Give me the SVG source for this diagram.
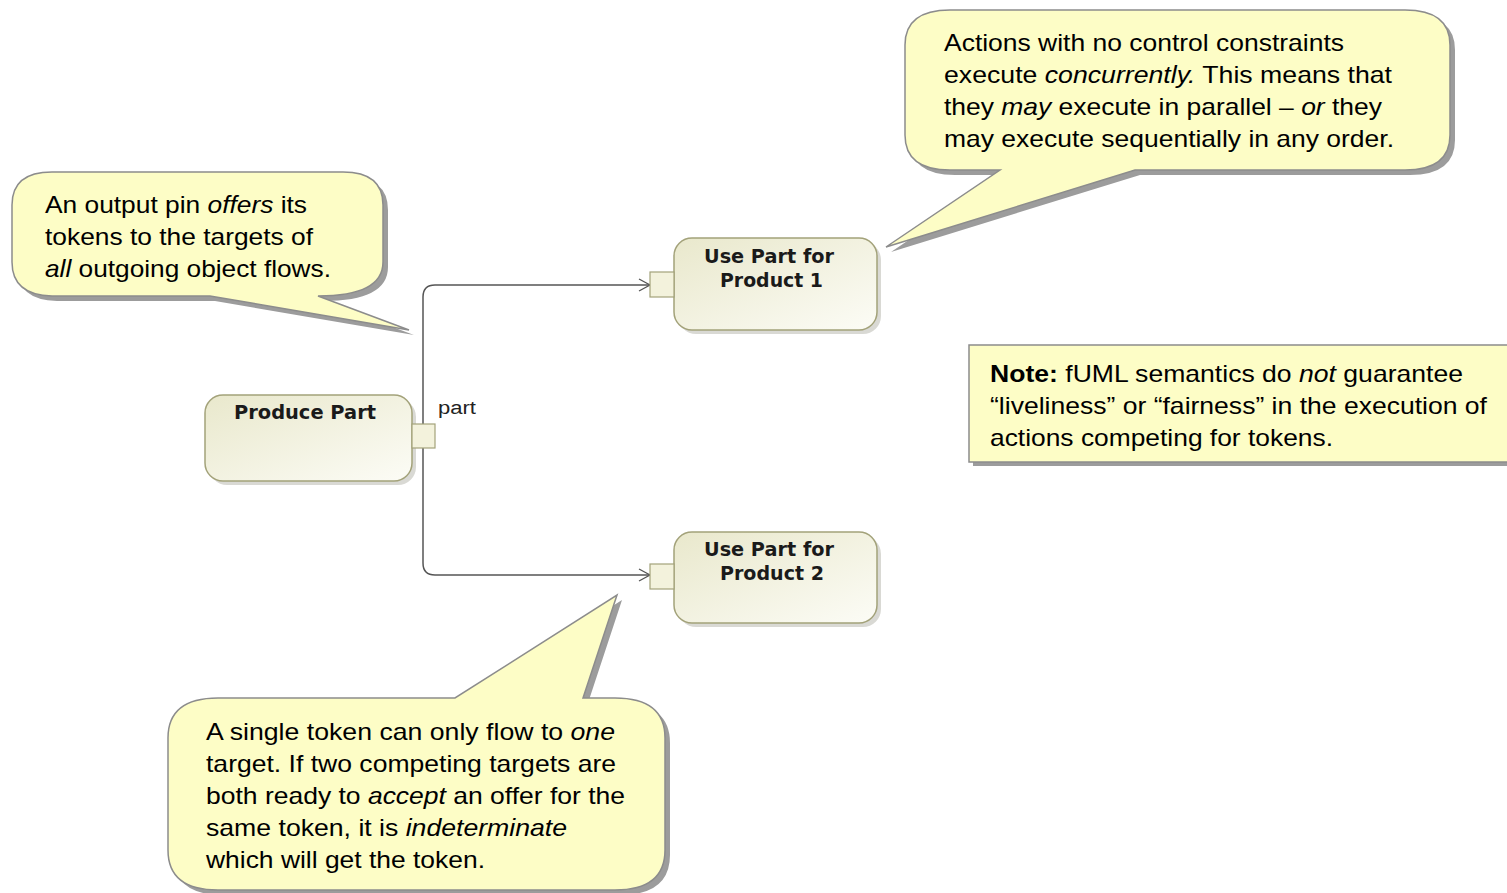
<svg xmlns="http://www.w3.org/2000/svg" width="1507" height="893" viewBox="0 0 1507 893">
<style>
.txt{font-family:"Liberation Sans",Arial,sans-serif;font-size:24px;fill:#000}
.nt{font-family:"DejaVu Sans","Liberation Sans",sans-serif;font-size:19px;font-weight:bold;fill:#1a1a1a}
.lbl{font-family:"Liberation Sans",Arial,sans-serif;font-size:18px;fill:#222}
.bub{fill:#fdfdc6;stroke:#8c8c8c;stroke-width:1.5}
.shd{fill:#9c9c9c}
.act{fill:url(#ag);stroke:#a3a27a;stroke-width:1.5}
.ash{fill:#d9d9d4}
.pin{fill:#f3f2dc;stroke:#a3a27a;stroke-width:1.2}
.flow{fill:none;stroke:#555;stroke-width:1.5}
</style>
<defs>
<linearGradient id="ag" x1="0" y1="0" x2="1" y2="1">
<stop offset="0" stop-color="#e9e8cc"/>
<stop offset="1" stop-color="#fcfcf6"/>
</linearGradient>
<marker id="arr" markerWidth="14" markerHeight="14" refX="12" refY="7" orient="auto" markerUnits="userSpaceOnUse">
<path d="M1,1 L12,7 L1,13" fill="none" stroke="#555" stroke-width="1.3"/>
</marker>
</defs>
<rect width="1507" height="893" fill="#fff"/>

<g id="connectors">
<path class="flow" d="M423,424 V297 Q423,285 435,285 H650" marker-end="url(#arr)"/>
<path class="flow" d="M423,448 V563 Q423,575 435,575 H650" marker-end="url(#arr)"/>
</g>

<g id="produce-part">
<rect class="ash" x="209" y="399" width="207" height="86" rx="18"/>
<rect class="act" x="205" y="395" width="207" height="86" rx="18"/>
<text class="nt" x="234" y="419" textLength="142" lengthAdjust="spacingAndGlyphs">Produce Part</text>
<rect class="pin" x="412" y="424" width="23" height="24"/>
<text class="lbl" x="438" y="414" textLength="38" lengthAdjust="spacingAndGlyphs">part</text>
</g>

<g id="use-part-1">
<rect class="ash" x="678" y="242" width="203" height="92" rx="18"/>
<rect class="act" x="674" y="238" width="203" height="92" rx="18"/>
<text class="nt" x="704" y="263" textLength="130" lengthAdjust="spacingAndGlyphs">Use Part for</text>
<text class="nt" x="720" y="287" textLength="103" lengthAdjust="spacingAndGlyphs">Product 1</text>
<rect class="pin" x="650" y="272" width="24" height="25"/>
</g>

<g id="use-part-2">
<rect class="ash" x="678" y="536" width="203" height="91" rx="18"/>
<rect class="act" x="674" y="532" width="203" height="91" rx="18"/>
<text class="nt" x="704" y="556" textLength="130" lengthAdjust="spacingAndGlyphs">Use Part for</text>
<text class="nt" x="720" y="580" textLength="104" lengthAdjust="spacingAndGlyphs">Product 2</text>
<rect class="pin" x="650" y="564" width="24" height="25"/>
</g>

<g id="note-top">
<path class="shd" transform="translate(5,5)" d="M950,10 H1405 Q1450,10 1450,45 V135 Q1450,170 1405,170 H1135 L886,247 L1000,170 H950 Q905,170 905,135 V45 Q905,10 950,10 Z"/>
<path class="bub" d="M950,10 H1405 Q1450,10 1450,45 V135 Q1450,170 1405,170 H1135 L886,247 L1000,170 H950 Q905,170 905,135 V45 Q905,10 950,10 Z"/>
<text class="txt" x="944" y="51" textLength="400" lengthAdjust="spacingAndGlyphs">Actions with no control constraints</text>
<text class="txt" x="944" y="83" textLength="448" lengthAdjust="spacingAndGlyphs">execute <tspan font-style="italic">concurrently.</tspan> This means that</text>
<text class="txt" x="944" y="115" textLength="438" lengthAdjust="spacingAndGlyphs">they <tspan font-style="italic">may</tspan> execute in parallel – <tspan font-style="italic">or</tspan> they</text>
<text class="txt" x="944" y="147" textLength="450" lengthAdjust="spacingAndGlyphs">may execute sequentially in any order.</text>
</g>

<g id="note-left">
<path class="shd" transform="translate(5,5)" d="M52,172 H343 Q383,172 383,205 V262 Q383,296 318,296 L409,330 L210,296 H52 Q12,295 12,262 V205 Q12,172 52,172 Z"/>
<path class="bub" d="M52,172 H343 Q383,172 383,205 V262 Q383,296 318,296 L409,330 L210,296 H52 Q12,295 12,262 V205 Q12,172 52,172 Z"/>
<text class="txt" x="45" y="213" textLength="262" lengthAdjust="spacingAndGlyphs">An output pin <tspan font-style="italic">offers</tspan> its</text>
<text class="txt" x="45" y="245" textLength="268" lengthAdjust="spacingAndGlyphs">tokens to the targets of</text>
<text class="txt" x="45" y="277" textLength="286" lengthAdjust="spacingAndGlyphs"><tspan font-style="italic">all</tspan> outgoing object flows.</text>
</g>

<g id="note-right">
<rect class="shd" x="973" y="349" width="540" height="117"/>
<rect class="bub" x="969" y="345" width="545" height="117"/>
<text class="txt" x="990" y="382" textLength="473" lengthAdjust="spacingAndGlyphs"><tspan font-weight="bold">Note:</tspan> fUML semantics do <tspan font-style="italic">not</tspan> guarantee</text>
<text class="txt" x="990" y="414" textLength="497" lengthAdjust="spacingAndGlyphs">“liveliness” or “fairness” in the execution of</text>
<text class="txt" x="990" y="446" textLength="343" lengthAdjust="spacingAndGlyphs">actions competing for tokens.</text>
</g>

<g id="note-bottom">
<path class="shd" transform="translate(5,5)" d="M218,698 H455 L617,595 L583,698 H615 Q665,698 665,738 V850 Q665,890 615,890 H218 Q168,890 168,850 V738 Q168,698 218,698 Z"/>
<path class="bub" d="M218,698 H455 L617,595 L583,698 H615 Q665,698 665,738 V850 Q665,890 615,890 H218 Q168,890 168,850 V738 Q168,698 218,698 Z"/>
<text class="txt" x="206" y="740" textLength="409" lengthAdjust="spacingAndGlyphs">A single token can only flow to <tspan font-style="italic">one</tspan></text>
<text class="txt" x="206" y="772" textLength="410" lengthAdjust="spacingAndGlyphs">target. If two competing targets are</text>
<text class="txt" x="206" y="804" textLength="419" lengthAdjust="spacingAndGlyphs">both ready to <tspan font-style="italic">accept</tspan> an offer for the</text>
<text class="txt" x="206" y="836" textLength="361" lengthAdjust="spacingAndGlyphs">same token, it is <tspan font-style="italic">indeterminate</tspan></text>
<text class="txt" x="206" y="868" textLength="279" lengthAdjust="spacingAndGlyphs">which will get the token.</text>
</g>
</svg>
